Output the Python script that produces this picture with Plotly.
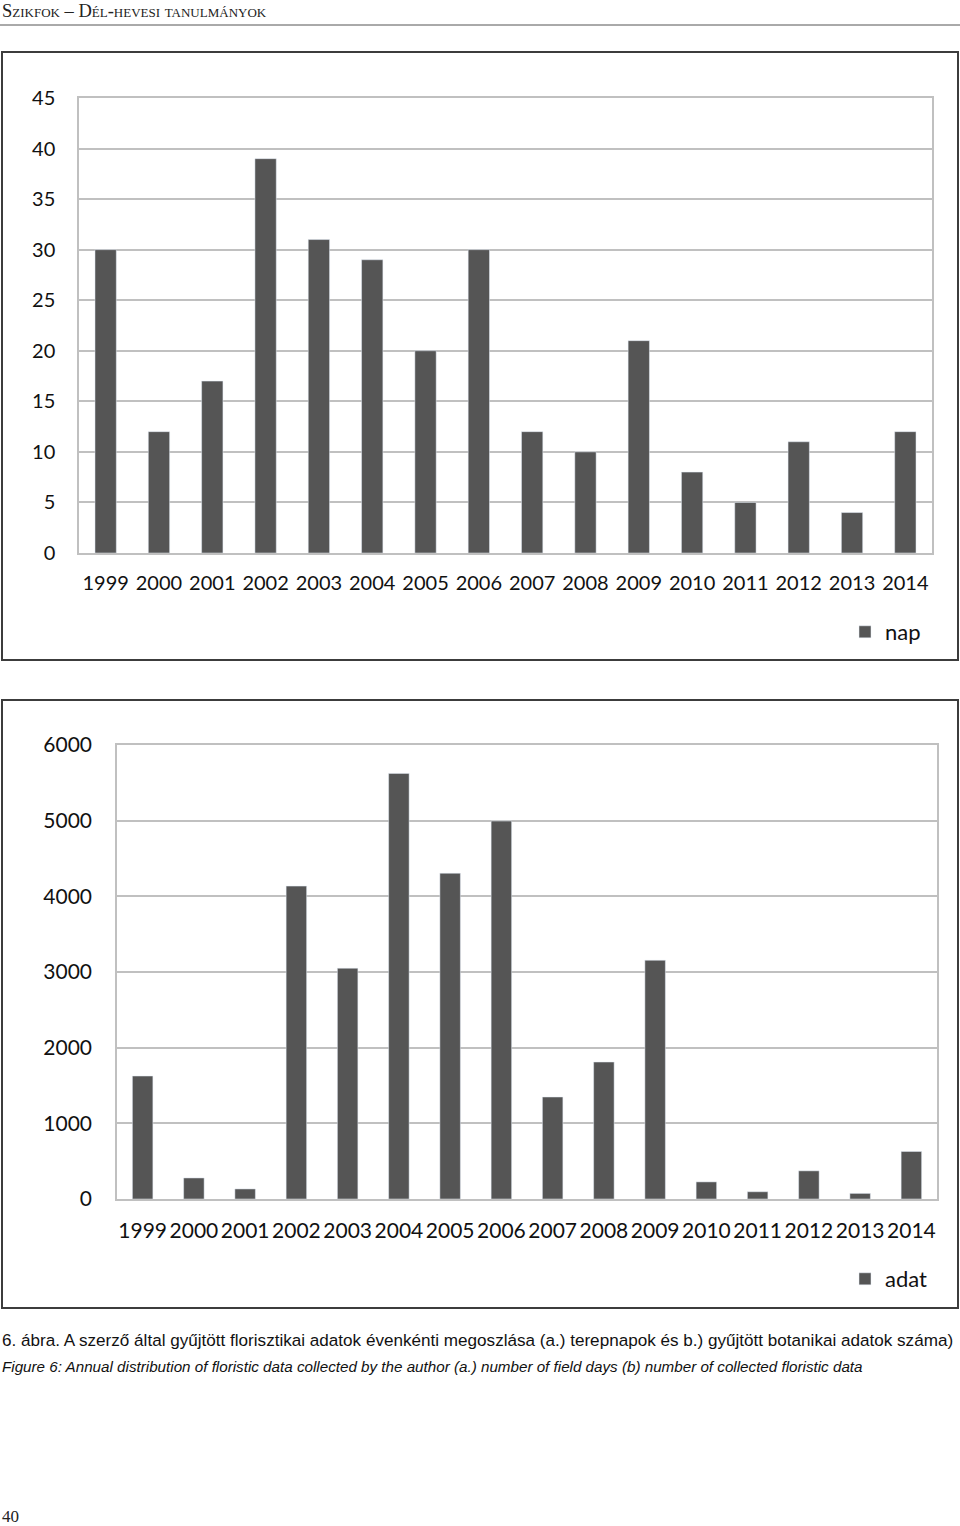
import plotly.graph_objects as go

W, H = 960, 1526

years = [str(y) for y in range(1999, 2015)]
# a.) terepnapok (nap)
nap = [30, 12, 17, 39, 31, 29, 20, 30, 12, 10, 21, 8, 5, 11, 4, 12]
# b.) gyujtott adatok (adat)
adat = [1625, 278, 133, 4135, 3050, 5625, 4305, 4995, 1348, 1810, 3155, 226, 96, 372, 74, 628]

BAR = '#555555'
GRID = '#c0c0c0'
FRAME = '#3c3c3c'
AX_FONT = dict(family='Lato, Open Sans, sans-serif', size=20, color='#111111')


def py(px):
    # pixel (from top) -> paper y
    return 1 - px / H


fig = go.Figure()

fig.add_trace(go.Bar(x=years, y=nap, name='nap', marker_color=BAR,
                     xaxis='x', yaxis='y', legend='legend'))
fig.add_trace(go.Bar(x=years, y=adat, name='adat', marker_color=BAR,
                     xaxis='x2', yaxis='y2', legend='legend2'))

axis_common = dict(showline=True, linecolor=GRID, linewidth=1.5, mirror=True,
                   ticks='', fixedrange=True, automargin=False)

fig.update_layout(
    width=W, height=H,
    margin=dict(l=0, r=0, t=0, b=0, pad=0, autoexpand=False),
    paper_bgcolor='white', plot_bgcolor='white',
    bargap=0.6,
    showlegend=True,
    xaxis=dict(domain=[79 / W, 932 / W], anchor='y', ticklabelstandoff=11,
               tickfont=AX_FONT, **axis_common),
    yaxis=dict(domain=[py(553), py(98)], anchor='x', range=[0, 45], dtick=5,
               showgrid=True, gridcolor=GRID, gridwidth=1.5, ticklabelstandoff=18,
               zeroline=False, tickfont=AX_FONT, **axis_common),
    xaxis2=dict(domain=[117 / W, 937 / W], anchor='y2', ticklabelstandoff=12,
                tickfont=dict(AX_FONT, size=21), **axis_common),
    yaxis2=dict(domain=[py(1199), py(745)], anchor='x2', range=[0, 6000], dtick=1000,
                showgrid=True, gridcolor=GRID, gridwidth=1.5, ticklabelstandoff=19,
                zeroline=False, tickfont=dict(AX_FONT, size=21), **axis_common),
    legend=dict(x=845 / W, y=py(632), xanchor='left', yanchor='middle',
                font=dict(AX_FONT, size=22), bgcolor='rgba(0,0,0,0)'),
    legend2=dict(x=845 / W, y=py(1279), xanchor='left', yanchor='middle',
                 font=dict(AX_FONT, size=22), bgcolor='rgba(0,0,0,0)'),
)

# keretek a ket diagram korul
for top, bot in [(52, 660), (700, 1308)]:
    fig.add_shape(type='rect', xref='paper', yref='paper',
                  x0=2 / W, x1=958 / W, y0=py(bot), y1=py(top),
                  line=dict(color=FRAME, width=2))

# fejlec
fig.add_shape(type='line', xref='paper', yref='paper', x0=0, x1=1,
              y0=py(25), y1=py(25), line=dict(color='#555555', width=1))
fig.add_annotation(xref='paper', yref='paper', x=0, y=py(11), xanchor='left', yanchor='middle',
                   text='Szikfok – Dél-hevesi tanulmányok', showarrow=False,
                   font=dict(family='Liberation Serif, serif', size=18.5, color='#222222',
                             variant='small-caps'))

# abrafelirat
fig.add_annotation(xref='paper', yref='paper', x=0, y=py(1340), xanchor='left', yanchor='middle',
                   text='6. ábra. A szerző által gyűjtött florisztikai adatok évenkénti megoszlása '
                        '(a.) terepnapok és b.) gyűjtött botanikai adatok száma)',
                   showarrow=False,
                   font=dict(family='Liberation Sans Narrow, Arial Narrow, Liberation Sans',
                             size=17.1, color='#111111'))
fig.add_annotation(xref='paper', yref='paper', x=0, y=py(1366), xanchor='left', yanchor='middle',
                   text='<i>Figure 6: Annual distribution of floristic data collected by the author '
                        '(a.) number of field days (b) number of collected floristic data</i>',
                   showarrow=False,
                   font=dict(family='Liberation Sans Narrow, Arial Narrow, Liberation Sans',
                             size=15.2, color='#111111'))

# oldalszam
fig.add_annotation(xref='paper', yref='paper', x=0, y=py(1516), xanchor='left', yanchor='middle',
                   text='40', showarrow=False,
                   font=dict(family='Liberation Serif, serif', size=17, color='#222222'))

# oldal margo nelkul
fig.write_html('out.html', post_script="document.body.style.margin='0';",
               config={'displayModeBar': False})
